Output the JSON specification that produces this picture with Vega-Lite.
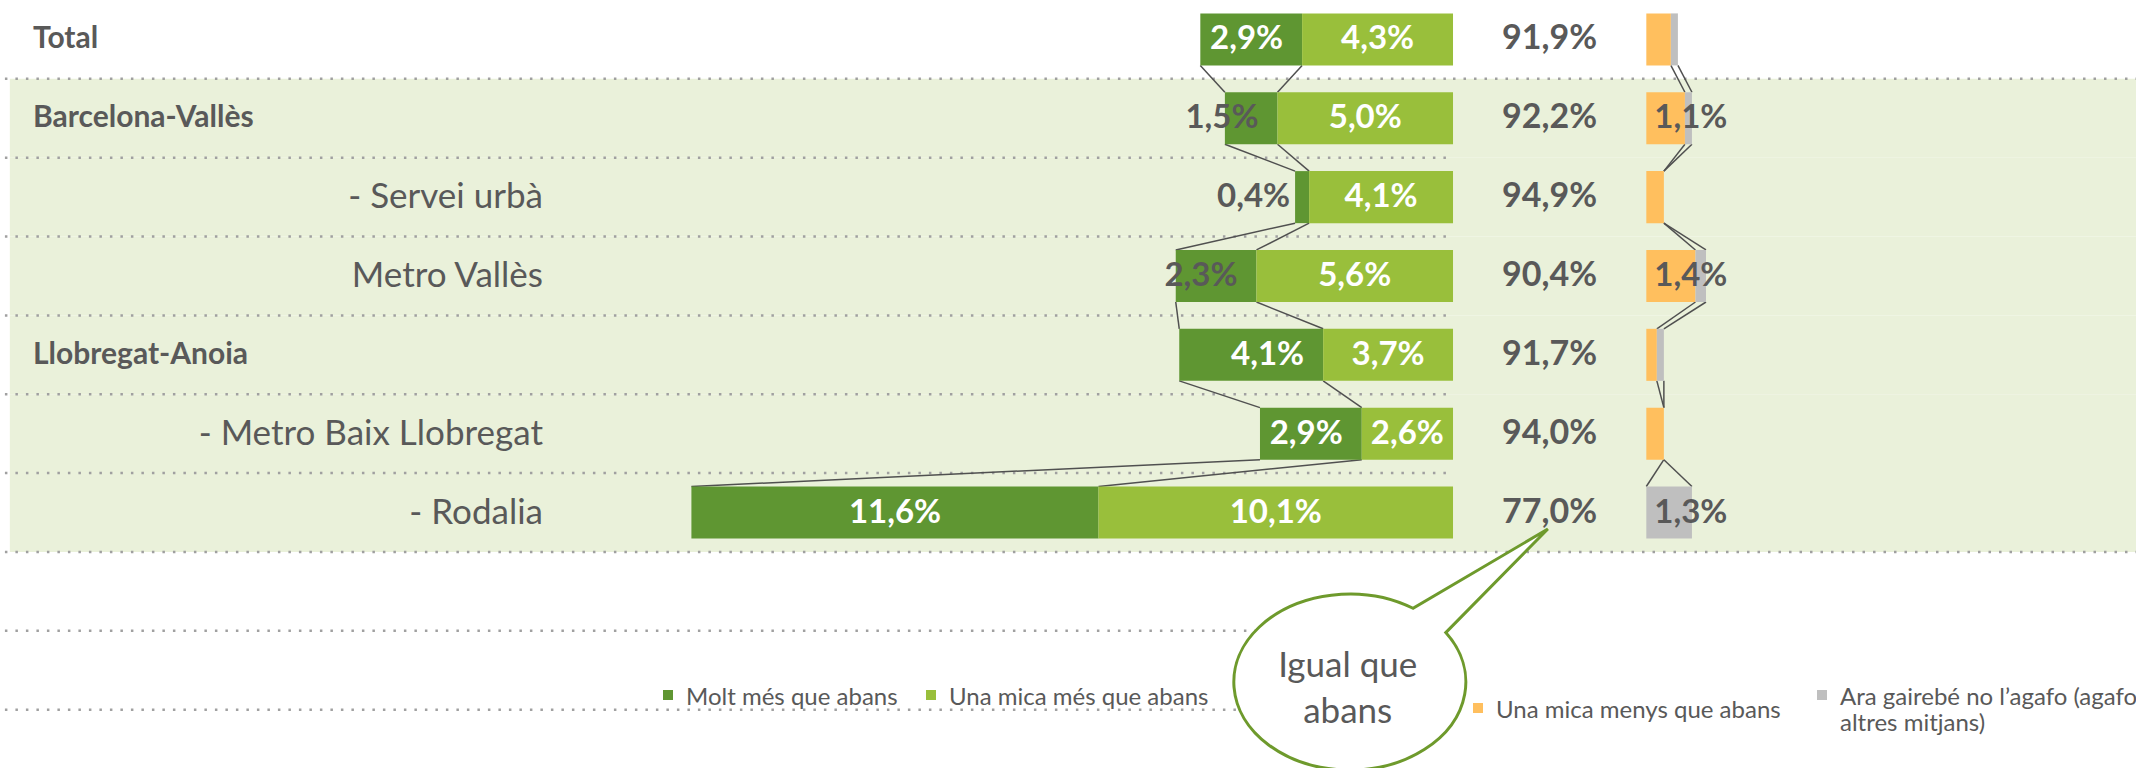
{
  "$schema": "https://vega.github.io/schema/vega-lite/v6.json",
  "width": 2136,
  "height": 768,
  "autosize": {"type": "none"},
  "padding": 0,
  "background": "white",
  "config": {
    "view": {"stroke": null},
    "locale": {"number": {"decimal": ",", "thousands": ".", "grouping": [3], "currency": ["", " €"]}},
    "text": {"font": "Lato"}
  },
  "datasets": {
    "enquesta": [
      {"cat": "Total", "nivell": "grup", "resposta": "Molt més que abans", "valor": 0.029},
      {"cat": "Total", "nivell": "grup", "resposta": "Una mica més que abans", "valor": 0.043},
      {"cat": "Total", "nivell": "grup", "resposta": "Igual que abans", "valor": 0.919},
      {"cat": "Total", "nivell": "grup", "resposta": "Una mica menys que abans", "valor": 0.007},
      {"cat": "Total", "nivell": "grup", "resposta": "Ara gairebé no l’agafo (agafo altres mitjans)", "valor": 0.002},
      {"cat": "Barcelona-Vallès", "nivell": "grup", "resposta": "Molt més que abans", "valor": 0.015},
      {"cat": "Barcelona-Vallès", "nivell": "grup", "resposta": "Una mica més que abans", "valor": 0.050},
      {"cat": "Barcelona-Vallès", "nivell": "grup", "resposta": "Igual que abans", "valor": 0.922},
      {"cat": "Barcelona-Vallès", "nivell": "grup", "resposta": "Una mica menys que abans", "valor": 0.011},
      {"cat": "Barcelona-Vallès", "nivell": "grup", "resposta": "Ara gairebé no l’agafo (agafo altres mitjans)", "valor": 0.002},
      {"cat": "- Servei urbà", "nivell": "sub", "resposta": "Molt més que abans", "valor": 0.004},
      {"cat": "- Servei urbà", "nivell": "sub", "resposta": "Una mica més que abans", "valor": 0.041},
      {"cat": "- Servei urbà", "nivell": "sub", "resposta": "Igual que abans", "valor": 0.949},
      {"cat": "- Servei urbà", "nivell": "sub", "resposta": "Una mica menys que abans", "valor": 0.005},
      {"cat": "- Servei urbà", "nivell": "sub", "resposta": "Ara gairebé no l’agafo (agafo altres mitjans)", "valor": 0.0},
      {"cat": "Metro Vallès", "nivell": "sub", "resposta": "Molt més que abans", "valor": 0.023},
      {"cat": "Metro Vallès", "nivell": "sub", "resposta": "Una mica més que abans", "valor": 0.056},
      {"cat": "Metro Vallès", "nivell": "sub", "resposta": "Igual que abans", "valor": 0.904},
      {"cat": "Metro Vallès", "nivell": "sub", "resposta": "Una mica menys que abans", "valor": 0.014},
      {"cat": "Metro Vallès", "nivell": "sub", "resposta": "Ara gairebé no l’agafo (agafo altres mitjans)", "valor": 0.003},
      {"cat": "Llobregat-Anoia", "nivell": "grup", "resposta": "Molt més que abans", "valor": 0.041},
      {"cat": "Llobregat-Anoia", "nivell": "grup", "resposta": "Una mica més que abans", "valor": 0.037},
      {"cat": "Llobregat-Anoia", "nivell": "grup", "resposta": "Igual que abans", "valor": 0.917},
      {"cat": "Llobregat-Anoia", "nivell": "grup", "resposta": "Una mica menys que abans", "valor": 0.003},
      {"cat": "Llobregat-Anoia", "nivell": "grup", "resposta": "Ara gairebé no l’agafo (agafo altres mitjans)", "valor": 0.002},
      {"cat": "- Metro Baix Llobregat", "nivell": "sub", "resposta": "Molt més que abans", "valor": 0.029},
      {"cat": "- Metro Baix Llobregat", "nivell": "sub", "resposta": "Una mica més que abans", "valor": 0.026},
      {"cat": "- Metro Baix Llobregat", "nivell": "sub", "resposta": "Igual que abans", "valor": 0.940},
      {"cat": "- Metro Baix Llobregat", "nivell": "sub", "resposta": "Una mica menys que abans", "valor": 0.005},
      {"cat": "- Metro Baix Llobregat", "nivell": "sub", "resposta": "Ara gairebé no l’agafo (agafo altres mitjans)", "valor": 0.0},
      {"cat": "- Rodalia", "nivell": "sub", "resposta": "Molt més que abans", "valor": 0.116},
      {"cat": "- Rodalia", "nivell": "sub", "resposta": "Una mica més que abans", "valor": 0.101},
      {"cat": "- Rodalia", "nivell": "sub", "resposta": "Igual que abans", "valor": 0.770},
      {"cat": "- Rodalia", "nivell": "sub", "resposta": "Una mica menys que abans", "valor": 0.0},
      {"cat": "- Rodalia", "nivell": "sub", "resposta": "Ara gairebé no l’agafo (agafo altres mitjans)", "valor": 0.013}
    ]
  },
  "data": {"name": "enquesta"},
  "encoding": {
    "y": {
      "field": "cat",
      "type": "nominal",
      "axis": null,
      "scale": {
        "type": "band",
        "domain": ["Total", "Barcelona-Vallès", "- Servei urbà", "Metro Vallès", "Llobregat-Anoia", "- Metro Baix Llobregat", "- Rodalia", " ", "  "],
        "paddingInner": 0,
        "paddingOuter": 0.37,
        "align": 0
      }
    }
  },
  "layer": [
    {
      "layer": [
        {
          "transform": [{"filter": "datum.resposta === 'Igual que abans' && datum.cat !== 'Total'"}],
          "mark": {"type": "rect", "color": "#EAF1DA"},
          "encoding": {
            "x": {"datum": 0.4112, "type": "quantitative", "scale": {"domain": [-0.1946, 0.414], "reverse": true, "nice": false, "zero": false}, "axis": null},
            "x2": {"datum": -0.1946}
          }
        },
        {
          "transform": [{"filter": "datum.resposta === 'Igual que abans'"}],
          "mark": {"type": "rule", "color": "#A0A0A0", "strokeWidth": 2.5, "strokeDash": [2.5, 8]},
          "encoding": {
            "x": {"datum": 0.4126, "type": "quantitative"},
            "x2": {"datum": 0},
            "y": {"field": "cat", "type": "nominal", "bandPosition": 1}
          }
        },
        {
          "transform": [{"filter": "datum.resposta === 'Igual que abans' && (datum.cat === 'Total' || datum.cat === '- Rodalia')"}],
          "mark": {"type": "rule", "color": "#A0A0A0", "strokeWidth": 2.5, "strokeDash": [2.5, 8]},
          "encoding": {
            "x": {"datum": 0, "type": "quantitative"},
            "x2": {"datum": -0.1946},
            "y": {"field": "cat", "type": "nominal", "bandPosition": 1}
          }
        },
        {
          "data": {"values": [{}]},
          "mark": {"type": "rule", "color": "#A0A0A0", "strokeWidth": 2.5, "strokeDash": [2.5, 8]},
          "encoding": {
            "x": {"datum": 0.4126, "type": "quantitative"},
            "x2": {"datum": 0},
            "y": {"datum": " ", "type": "nominal", "bandPosition": 1}
          }
        },
        {
          "data": {"values": [{}]},
          "mark": {"type": "rule", "color": "#A0A0A0", "strokeWidth": 2.5, "strokeDash": [2.5, 8]},
          "encoding": {
            "x": {"datum": 0.4126, "type": "quantitative"},
            "x2": {"datum": 0},
            "y": {"datum": "  ", "type": "nominal", "bandPosition": 1}
          }
        },
        {
          "transform": [
            {"filter": {"field": "resposta", "oneOf": ["Molt més que abans", "Una mica més que abans"]}},
            {"window": [{"op": "row_number", "as": "idx"}], "groupby": ["resposta"]},
            {"stack": "valor", "groupby": ["cat"], "sort": [{"field": "resposta", "order": "descending"}], "as": ["v0", "v1"]},
            {"window": [{"op": "lead", "field": "v1", "as": "next_v1"}, {"op": "lead", "field": "cat", "as": "next_cat"}], "groupby": ["resposta"], "sort": [{"field": "idx", "order": "ascending"}]},
            {"filter": "datum.next_cat != null"}
          ],
          "mark": {"type": "rule", "color": "#505050", "strokeWidth": 1.5},
          "encoding": {
            "x": {"field": "v1", "type": "quantitative"},
            "x2": {"field": "next_v1"},
            "y": {"field": "cat", "type": "nominal", "bandPosition": 0.83},
            "y2": {"field": "next_cat", "bandPosition": 0.17}
          }
        },
        {
          "transform": [{"filter": {"field": "resposta", "oneOf": ["Molt més que abans", "Una mica més que abans"]}}],
          "mark": {"type": "bar", "height": {"band": 0.66}},
          "encoding": {
            "x": {"field": "valor", "type": "quantitative", "stack": "zero"},
            "order": {"field": "resposta", "sort": "descending"},
            "color": {
              "field": "resposta",
              "type": "nominal",
              "scale": {"domain": ["Molt més que abans", "Una mica més que abans"], "range": ["#5F9632", "#99BF3B"]},
              "legend": {
                "orient": "none",
                "legendX": 656,
                "legendY": 693,
                "direction": "horizontal",
                "title": null,
                "symbolType": "M-1,-3H1V-1H-1Z",
                "symbolSize": 100,
                "symbolStrokeWidth": 0,
                "labelFont": "Lato",
                "labelFontSize": 24,
                "labelColor": "#595959",
                "labelBaseline": "alphabetic",
                "labelOffset": 6,
                "labelLimit": 0,
                "columnPadding": 21,
                "padding": 0
              }
            }
          }
        },
        {
          "transform": [
            {"filter": {"field": "resposta", "oneOf": ["Molt més que abans", "Una mica més que abans"]}},
            {"stack": "valor", "groupby": ["cat"], "sort": [{"field": "resposta", "order": "descending"}], "as": ["v0", "v1"]},
            {"filter": "datum.resposta === 'Una mica més que abans' || datum.valor >= 0.1"},
            {"fold": ["v0", "v1"], "as": ["extrem", "pos"]}
          ],
          "mark": {"type": "text", "font": "Lato", "fontSize": 33, "fontWeight": "bold", "align": "center", "baseline": "middle"},
          "encoding": {
            "x": {"field": "pos", "aggregate": "mean", "type": "quantitative"},
            "detail": {"field": "resposta"},
            "text": {"field": "valor", "type": "quantitative", "format": ".1%"},
            "color": {"condition": {"test": "datum.valor < 0.025", "value": "#595959"}, "value": "white"}
          }
        },
        {
          "transform": [
            {"filter": {"field": "resposta", "oneOf": ["Molt més que abans", "Una mica més que abans"]}},
            {"stack": "valor", "groupby": ["cat"], "sort": [{"field": "resposta", "order": "descending"}], "as": ["v0", "v1"]},
            {"filter": "datum.resposta === 'Molt més que abans' && datum.valor < 0.1"}
          ],
          "mark": {"type": "text", "font": "Lato", "fontSize": 33, "fontWeight": "bold", "align": "right", "baseline": "middle", "dx": -19},
          "encoding": {
            "x": {"field": "v0", "type": "quantitative"},
            "text": {"field": "valor", "type": "quantitative", "format": ".1%"},
            "color": {"condition": {"test": "datum.valor < 0.025", "value": "#595959"}, "value": "white"}
          }
        },
        {
          "transform": [{"filter": "datum.resposta === 'Igual que abans'"}],
          "mark": {"type": "text", "font": "Lato", "fontSize": 34, "fontWeight": "bold", "align": "center", "baseline": "middle", "color": "#595959"},
          "encoding": {
            "x": {"datum": -0.0275, "type": "quantitative"},
            "text": {"field": "valor", "type": "quantitative", "format": ".1%"}
          }
        },
        {
          "transform": [{"filter": "datum.resposta === 'Igual que abans' && datum.nivell === 'grup'"}],
          "mark": {"type": "text", "font": "Lato", "fontSize": 30, "fontWeight": "bold", "align": "left", "baseline": "middle", "color": "#595959"},
          "encoding": {
            "x": {"datum": 0.4046, "type": "quantitative"},
            "text": {"field": "cat", "type": "nominal"}
          }
        },
        {
          "transform": [{"filter": "datum.resposta === 'Igual que abans' && datum.nivell === 'sub'"}],
          "mark": {"type": "text", "font": "Lato", "fontSize": 35, "align": "right", "baseline": "middle", "color": "#595959"},
          "encoding": {
            "x": {"datum": 0.2593, "type": "quantitative"},
            "text": {"field": "cat", "type": "nominal"}
          }
        },
        {
          "data": {"values": [{}]},
          "mark": {"type": "point", "shape": "M0.9594,-0.4946C1.2944,-0.1207 1.2013,0.3851 0.7441,0.6751C0.2869,0.9651 -0.3858,0.9451 -0.8116,0.6287C-1.2374,0.3124 -1.2779,-0.1974 -0.9053,-0.5502C-0.5327,-0.9031 0.1320,-0.9843 0.6318,-0.7380L1.98,-1.53Z", "size": 40000, "filled": true, "fill": "white", "stroke": "#6E9A2C", "strokeWidth": 3, "opacity": 1, "fillOpacity": 1},
          "encoding": {
            "x": {"datum": 0.0294, "type": "quantitative"},
            "y": {"datum": "  ", "type": "nominal", "bandPosition": 0.65}
          }
        },
        {
          "data": {"values": [{}]},
          "mark": {"type": "text", "font": "Lato", "fontSize": 35, "align": "center", "baseline": "middle", "lineHeight": 46, "color": "#595959"},
          "encoding": {
            "x": {"datum": 0.03, "type": "quantitative"},
            "y": {"datum": "  ", "type": "nominal", "bandPosition": 0.45},
            "text": {"value": ["Igual que", "abans"]}
          }
        }
      ]
    },
    {
      "layer": [
        {
          "transform": [
            {"filter": {"field": "resposta", "oneOf": ["Una mica menys que abans", "Ara gairebé no l’agafo (agafo altres mitjans)"]}},
            {"window": [{"op": "row_number", "as": "idx"}], "groupby": ["resposta"]},
            {"stack": "valor", "groupby": ["cat"], "sort": [{"field": "resposta", "order": "descending"}], "as": ["v0", "v1"]},
            {"window": [{"op": "lead", "field": "v1", "as": "next_v1"}, {"op": "lead", "field": "cat", "as": "next_cat"}], "groupby": ["resposta"], "sort": [{"field": "idx", "order": "ascending"}]},
            {"filter": "datum.next_cat != null"}
          ],
          "mark": {"type": "rule", "color": "#505050", "strokeWidth": 1.5},
          "encoding": {
            "x": {"field": "v1", "type": "quantitative", "scale": {"domain": [-0.469, 0.1395], "nice": false, "zero": false}, "axis": null},
            "x2": {"field": "next_v1"},
            "y": {"field": "cat", "type": "nominal", "bandPosition": 0.83},
            "y2": {"field": "next_cat", "bandPosition": 0.17}
          }
        },
        {
          "transform": [{"filter": {"field": "resposta", "oneOf": ["Una mica menys que abans", "Ara gairebé no l’agafo (agafo altres mitjans)"]}}],
          "mark": {"type": "bar", "height": {"band": 0.66}},
          "encoding": {
            "x": {"field": "valor", "type": "quantitative", "stack": "zero"},
            "order": {"field": "resposta", "sort": "descending"},
            "color": {
              "field": "resposta",
              "type": "nominal",
              "scale": {"domain": ["Una mica menys que abans", "Ara gairebé no l’agafo (agafo altres mitjans)"], "range": ["#FFBF5E", "#BFBFBF"]},
              "legend": {
                "orient": "none",
                "legendX": 1466,
                "legendY": 693,
                "direction": "horizontal",
                "title": null,
                "symbolType": "M-1,-3H1V-1H-1Z",
                "symbolSize": 100,
                "symbolStrokeWidth": 0,
                "labelFont": "Lato",
                "labelFontSize": 24,
                "labelColor": "#595959",
                "labelBaseline": "alphabetic",
                "labelOffset": 6,
                "labelLimit": 0,
                "columnPadding": 29,
                "padding": 0,
                "labelExpr": "datum.label === 'Ara gairebé no l’agafo (agafo altres mitjans)' ? ['Ara gairebé no l’agafo (agafo', 'altres mitjans)'] : datum.label"
              }
            }
          }
        },
        {
          "transform": [
            {"filter": {"field": "resposta", "oneOf": ["Una mica menys que abans", "Ara gairebé no l’agafo (agafo altres mitjans)"]}},
            {"stack": "valor", "groupby": ["cat"], "sort": [{"field": "resposta", "order": "descending"}], "as": ["v0", "v1"]},
            {"filter": "datum.valor >= 0.01"}
          ],
          "mark": {"type": "text", "font": "Lato", "fontSize": 33, "fontWeight": "bold", "align": "left", "baseline": "middle", "dx": 8, "color": "#595959"},
          "encoding": {
            "x": {"field": "v0", "type": "quantitative"},
            "text": {"field": "valor", "type": "quantitative", "format": ".1%"}
          }
        }
      ]
    }
  ],
  "resolve": {"scale": {"x": "independent", "color": "independent"}, "legend": {"color": "independent"}}
}
